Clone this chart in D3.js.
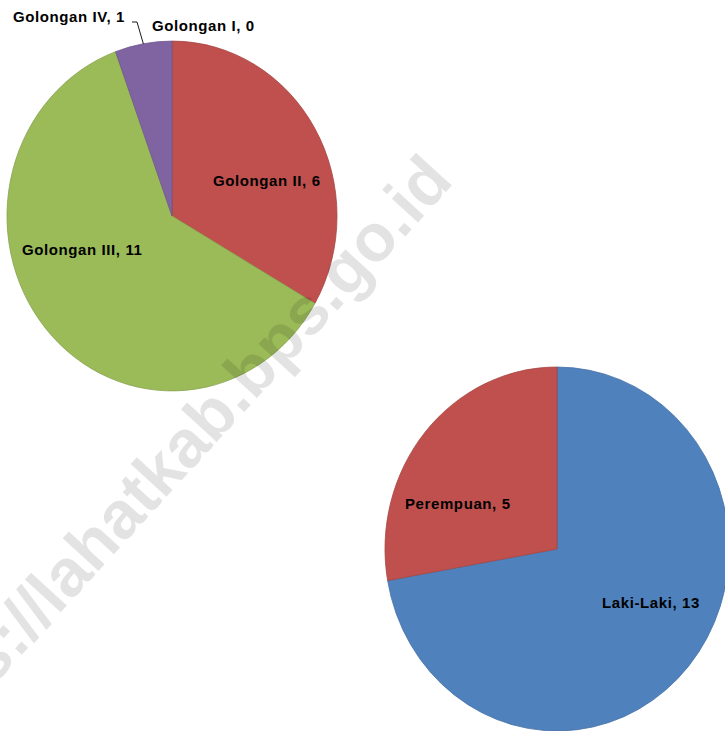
<!DOCTYPE html>
<html>
<head>
<meta charset="utf-8">
<script src="https://cdn.jsdelivr.net/npm/d3@7/dist/d3.min.js"></script>
<style>
  html, body { margin: 0; padding: 0; background: #fff; overflow: hidden; }
  text { font-family: "Liberation Sans", Arial, sans-serif; font-weight: bold; }
</style>
</head>
<body>
<div id="chart"></div>
<script>
"use strict";

// pie 1: pegawai per golongan
const golLabels = ["Golongan I", "Golongan II", "Golongan III", "Golongan IV"];
const golValues = [0, 6, 11, 1];

// pie 2: pegawai per jenis kelamin
const jkLabels = ["Laki-Laki", "Perempuan"];
const jkValues = [13, 5];

const palette = ["#4f81bd", "#c0504d", "#9bbb59", "#8064a2"];
const jkColors = ["#4f81bd", "#c0504d"];

const width = 725;
const height = 731;

const svg = d3.select("#chart").append("svg")
              .attr("width", width)
              .attr("height", height);

const pie = d3.pie().sort(null).value(d => d.value);

const drawPie = (labels, values, colors, opt) => {
    const data = labels.map((l, i) => ({label: l, value: values[i], color: colors[i]}));
    const arcs = pie(data);
    const arc = d3.arc().innerRadius(0).outerRadius(opt.r);
    const edge = d3.arc().innerRadius(opt.r).outerRadius(opt.r);

    const g = svg.append("g")
                 .attr("transform", `translate(${opt.cx}, ${opt.cy}) scale(1, ${opt.sy})`);
    g.selectAll("path").data(arcs).enter()
     .append("path")
     .attr("d", arc)
     .attr("fill", d => d.data.color)
     .attr("stroke", d => d3.color(d.data.color).darker(0.4))
     .attr("stroke-width", 0.8)
     .attr("vector-effect", "non-scaling-stroke");

    // labels
    arcs.forEach((a, i) => {
        const p = opt.labels[i];
        svg.append("text")
           .attr("x", p[0])
           .attr("y", p[1])
           .attr("font-size", 15)
           .attr("letter-spacing", 0.6)
           .attr("fill", "#000")
           .text(`${a.data.label}, ${a.data.value}`);
        if (p[2]) {
            const c = edge.centroid(a);
            const ex = opt.cx + c[0];
            const ey = opt.cy + c[1] * opt.sy;
            svg.append("path")
               .attr("d", `M${p[2][0]},${p[2][1]}H${p[2][0] + 5}L${ex},${ey}`)
               .attr("fill", "none")
               .attr("stroke", "#000")
               .attr("stroke-width", 0.9);
        }
    });
};

drawPie(golLabels, golValues, palette, {
    cx: 172, cy: 216, r: 165, sy: 1.06,
    labels: [[152, 31], [213, 186], [22, 255], [13, 22, [132, 22]]]
});

drawPie(jkLabels, jkValues, jkColors, {
    cx: 557, cy: 549, r: 172, sy: 1.058,
    labels: [[602, 608], [405, 509]]
});

// watermark
svg.append("text")
   .attr("transform", "translate(455, 182) rotate(-47.5)")
   .attr("text-anchor", "end")
   .attr("font-size", 67)
   .attr("fill", "#000")
   .attr("fill-opacity", 0.11)
   .text("https://lahatkab.bps.go.id");
</script>
</body>
</html>
